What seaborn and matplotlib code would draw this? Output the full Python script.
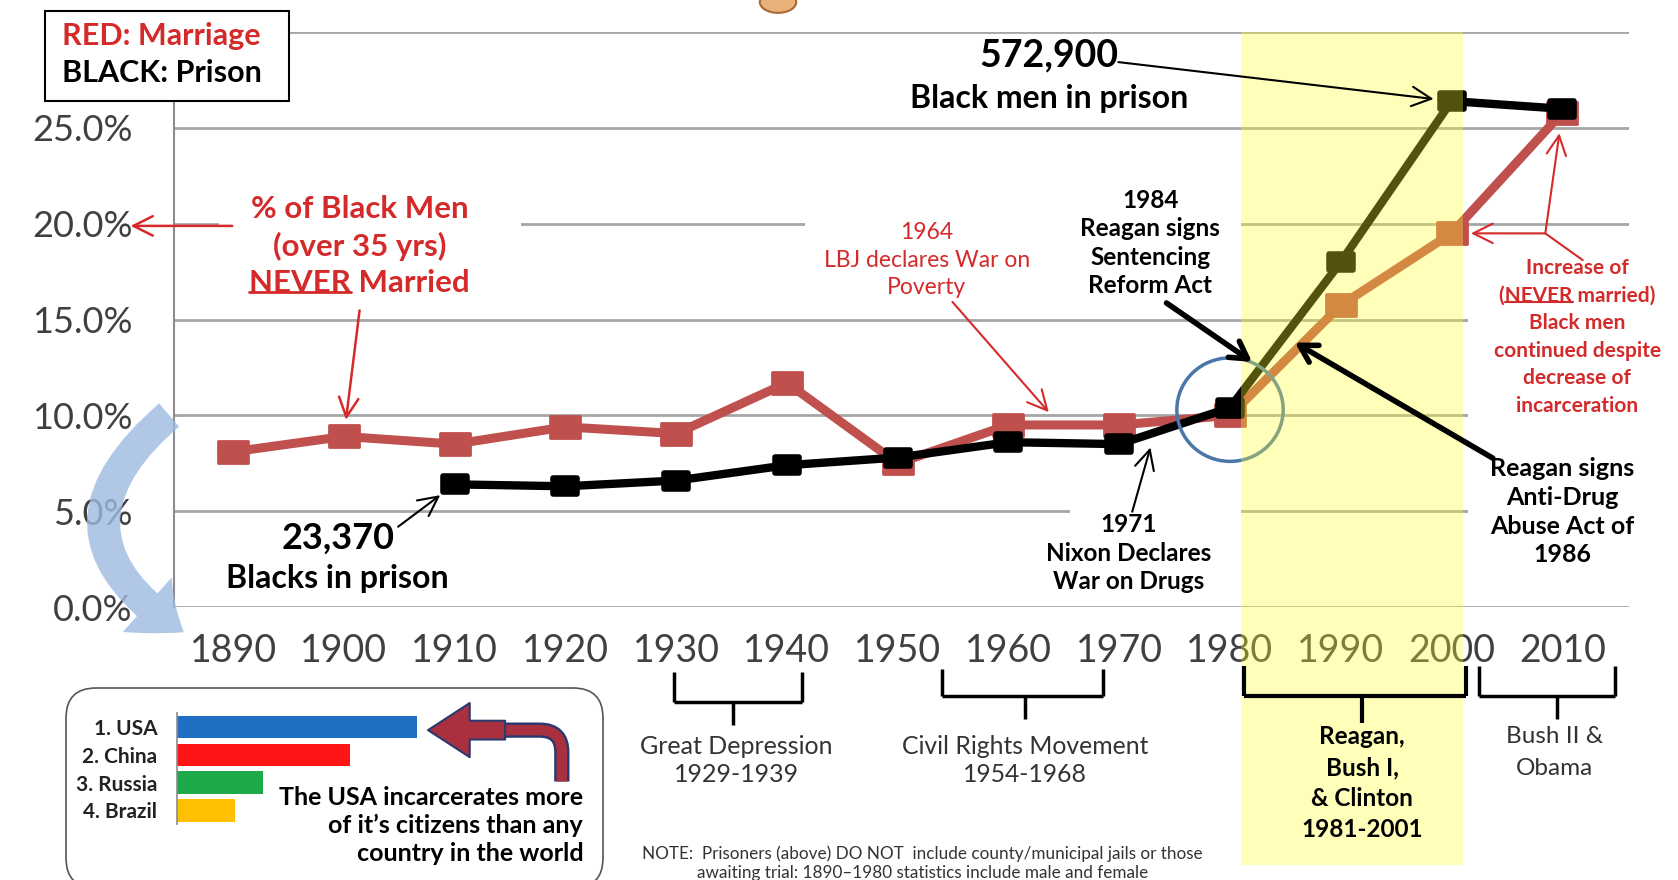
import numpy as np
import matplotlib
matplotlib.use("Agg")
import matplotlib.pyplot as plt
import seaborn as sns
from matplotlib.patches import Rectangle, FancyBboxPatch, Ellipse, FancyArrowPatch
from matplotlib.lines import Line2D
from matplotlib.path import Path
from matplotlib.markers import MarkerStyle
import matplotlib.transforms as mtransforms

# ---------------- data ----------------
years = [1890, 1900, 1910, 1920, 1930, 1940, 1950, 1960, 1970, 1980, 1990, 2000, 2010]
never_married_pct = [8.1, 8.9, 8.5, 9.4, 9.05, 11.7, 7.5, 9.5, 9.5, 10.0, 15.75, 19.5, 25.8]
prison_pct = [np.nan, np.nan, 6.4, 6.3, 6.6, 7.4, 7.8, 8.6, 8.5, 10.4, 18.0, 26.4, 26.0]
y_ticks = [0, 5, 10, 15, 20, 25, 30]
y_tick_labels = ["0.0%", "5.0%", "10.0%", "15.0%", "20.0%", "25.0%", ""]
x_tick_labels = [str(y) for y in years]
reagan_span = [1981, 2001]

countries = ["1. USA", "2. China", "3. Russia", "4. Brazil"]
prisoners_millions = [2.2, 1.58, 0.79, 0.53]
country_colors = ["#1f6fc5", "#ff1515", "#1faa4a", "#ffc000"]

# ---------------- style ----------------
sns.set_style("white")
plt.rcParams["font.family"] = ["Lato", "DejaVu Sans"]

RED_LINE = "#c0504d"
RED_TXT = "#d42a2a"
GRID = "#a6a6a6"

W_IN, H_IN = 16.78, 8.80
fig = plt.figure(figsize=(W_IN, H_IN), dpi=100)
fig.patch.set_facecolor("white")


def D(x, y):
    """reference layout position (1568x822 preview) -> figure fraction"""
    return (x / 1568.0, 1.0 - y / 822.0)


ax = fig.add_axes([163 / 1568, 1 - 567 / 822, (1522 - 163) / 1568, (567 - 30) / 822])
ax.set_zorder(0)

# markers
rect_marker = MarkerStyle(Path([(-1.38, -1), (1.38, -1), (1.38, 1), (-1.38, 1), (-1.38, -1)],
                               [Path.MOVETO, Path.LINETO, Path.LINETO, Path.LINETO, Path.CLOSEPOLY]),
                          joinstyle="miter")
rrect_marker = MarkerStyle(Path([(-1.45, -1), (1.45, -1), (1.45, 1), (-1.45, 1), (-1.45, -1)],
                                [Path.MOVETO, Path.LINETO, Path.LINETO, Path.LINETO, Path.CLOSEPOLY]),
                           joinstyle="round")

sns.lineplot(x=years, y=never_married_pct, ax=ax, color=RED_LINE, lw=6.5,
             marker=rect_marker, markersize=21, markeredgecolor=RED_LINE,
             markeredgewidth=2, zorder=2)
sns.lineplot(x=years, y=prison_pct, ax=ax, color="black", lw=6,
             marker=rrect_marker, markersize=17, markeredgecolor="black",
             markeredgewidth=4, zorder=2.2)

ax.set_xlim(1884.7, 2016)
ax.set_ylim(0, 30)
ax.set_xticks(years, labels=x_tick_labels)
ax.set_yticks(y_ticks, labels=y_tick_labels)
ax.set_xlabel("")
ax.set_ylabel("")
ax.yaxis.grid(True, color=GRID, lw=2)
ax.xaxis.grid(False)
ax.tick_params(axis="x", length=0, pad=19, labelsize=27, labelcolor="#404040")
ax.tick_params(axis="y", length=0, pad=30, labelsize=26, labelcolor="#404040")
for s in ["top", "right", "bottom"]:
    ax.spines[s].set_visible(False)
ax.spines["left"].set_color("#8c8c8c")
ax.spines["left"].set_linewidth(1.5)

# circle around 1980
ax.add_patch(Ellipse((1980, 10.3), width=9.6, height=5.4, fill=False,
                     edgecolor="#4a76a8", lw=2.5, zorder=2.5))

# yellow overlay (drawn over lines/ticks -> olive/orange look)
trans_xfig = mtransforms.blended_transform_factory(ax.transData, fig.transFigure)
ax.add_patch(Rectangle((reagan_span[0], 1 - 808 / 822), reagan_span[1] - reagan_span[0],
                       (808 - 30) / 822, transform=trans_xfig, facecolor="#ffff2d",
                       alpha=0.33, edgecolor="none", zorder=3, clip_on=False))

# white masks hiding grid behind text blocks
def white_mask(x0, y0, x1, y1):
    p0 = D(x0, y1)
    fig.add_artist(Rectangle(p0, (x1 - x0) / 1568, (y1 - y0) / 822, transform=fig.transFigure,
                             facecolor="white", edgecolor="none", zorder=1))

white_mask(205, 182, 487, 282)
white_mask(752, 200, 1160, 222)
white_mask(1000, 468, 1160, 488)
white_mask(1372, 245, 1545, 532)

# legend box
fig.add_artist(Rectangle(D(42, 94), 228 / 1568, 84 / 822, transform=fig.transFigure,
                         facecolor="white", edgecolor="black", lw=1.5, zorder=1.5))


def ftext(x, y, s, size=16, color="black", weight="bold", ha="center", **kw):
    return fig.text(*D(x, y), s, fontsize=size, color=color, fontweight=weight,
                    ha=ha, va="center", zorder=5, **kw)


ftext(58, 34, "RED: Marriage", 22, RED_TXT, ha="left")
ftext(58, 68, "BLACK: Prison", 22, "black", ha="left")

# cut-off ornament at top
fig.add_artist(Ellipse(D(727, 2), 34 / 1568, 20 / 822, transform=fig.transFigure,
                       facecolor="#e8b27a", edgecolor="#a86a30", lw=1.5, zorder=1))

# "% of Black Men" block
ftext(336, 195, "% of Black Men", 22.5, RED_TXT)
ftext(336, 230, "(over 35 yrs)", 22.5, RED_TXT)
t_never1 = ftext(336, 264, "NEVER Married", 22.5, RED_TXT)

# 1964
ftext(866, 217, "1964", 16.5, RED_TXT, weight="normal")
ftext(866, 243, "LBJ declares War on", 16.5, RED_TXT, weight="normal")
ftext(866, 269, "Poverty", 16.5, RED_TXT, weight="normal")

# 1984
for i, s in enumerate(["1984", "Reagan signs", "Sentencing", "Reform Act"]):
    ftext(1075, 187 + i * 26.7, s, 17.5)

# 572,900
ftext(980, 52, "572,900", 27)
ftext(980, 92, "Black men in prison", 23)

# Increase of ...
inc_lines = ["Increase of", "(NEVER married)", "Black men", "continued despite",
             "decrease of", "incarceration"]
inc_objs = []
for i, s in enumerate(inc_lines):
    inc_objs.append(ftext(1474, 250 + i * 25.8, s, 15, RED_TXT))

# Anti-drug
for i, s in enumerate(["Reagan signs", "Anti-Drug", "Abuse Act of", "1986"]):
    ftext(1460, 438 + i * 26.7, s, 18)

# Nixon
for i, s in enumerate(["1971", "Nixon Declares", "War on Drugs"]):
    ftext(1055, 490 + i * 26.7, s, 17.5)

# 23,370
ftext(316, 503, "23,370", 26)
ftext(315, 540, "Blacks in prison", 23)

# ---------------- arrows ----------------
def arrow_fig(p0, p1, color="black", lw=1.5, style="->,head_length=0.7,head_width=0.35"):
    fig.add_artist(FancyArrowPatch(D(*p0), D(*p1), transform=fig.transFigure,
                                   arrowstyle=style, color=color, lw=lw, zorder=6,
                                   shrinkA=0, shrinkB=0, mutation_scale=20))


def arrow_data(p0, xy, color="black", lw=1.5, shrinkB=12,
               style="->,head_length=0.7,head_width=0.35"):
    ax.annotate("", xy=xy, xycoords="data", xytext=D(*p0), textcoords="figure fraction",
                arrowprops=dict(arrowstyle=style, color=color, lw=lw, shrinkA=0,
                                shrinkB=shrinkB, mutation_scale=20),
                zorder=6, annotation_clip=False)


arrow_fig((217, 211), (122, 211), RED_TXT, 1.8)
arrow_data((336, 290), (years[1], never_married_pct[1]), RED_TXT, 1.8, shrinkB=12)
arrow_fig((890, 282), (980, 385), RED_TXT, 1.5)
arrow_fig((1090, 283), (1170, 338), "black", 4, "->,head_length=0.6,head_width=0.35")
arrow_data((1045, 58), (years[11], prison_pct[11]), "black", 1.5, shrinkB=13)
arrow_fig((1395, 428), (1210, 320), "black", 4, "->,head_length=0.6,head_width=0.35")
arrow_fig((1058, 478), (1075, 418), "black", 1.5)
arrow_data((372, 492), (years[2], prison_pct[2]), "black", 1.5, shrinkB=13)
# fork
arrow_fig((1479, 243), (1444, 218), RED_TXT, 1.5, "-")
arrow_data((1444, 218), (years[11], never_married_pct[11]), RED_TXT, 1.5, shrinkB=14)
arrow_data((1444, 218), (years[12], never_married_pct[12]), RED_TXT, 1.5, shrinkB=15)

# big blue curved arrow on the left
fig.add_artist(FancyArrowPatch(D(160, 386), D(174, 592), transform=fig.transFigure,
                               connectionstyle="arc3,rad=0.68",
                               arrowstyle="simple,head_width=2.4,head_length=1.5,tail_width=1.0",
                               mutation_scale=22, facecolor="#9dbbe0", edgecolor="none",
                               alpha=0.8, zorder=4))

# ---------------- brackets under the axis ----------------
def bracket(x0, x1, xm, ytop, yh, ybot, lw=2.5):
    for xs, ys in [([x0, x0], [ytop, yh]), ([x1, x1], [ytop, yh]), ([x0, x1], [yh, yh]),
                   ([xm, xm], [yh, ybot])]:
        fig.add_artist(Line2D(xs, [1 - v / 822 for v in ys], transform=trans_xfig,
                              color="black", lw=lw, zorder=4, solid_capstyle="butt"))


bracket(1929.8, 1941.4, 1935.1, 628, 656, 677)
bracket(1954.0, 1968.5, 1961.5, 625, 650, 672)
bracket(1981.3, 2001.3, 1991.9, 622, 650, 675, lw=3)
bracket(2002.5, 2014.8, 2009.5, 622, 650, 672)

ftext(688, 697, "Great Depression", 18, "#333333", weight="normal")
ftext(688, 723, "1929-1939", 18, "#333333", weight="normal")
ftext(958, 697, "Civil Rights Movement", 17.8, "#333333", weight="normal")
ftext(958, 723, "1954-1968", 17.8, "#333333", weight="normal")
for i, s in enumerate(["Reagan,", "Bush I,", "& Clinton", "1981-2001"]):
    ftext(1273, 688 + i * 29, s, 17.5)
ftext(1453, 688, "Bush II &", 17.5, "#333333", weight="normal")
ftext(1453, 718, "Obama", 17.5, "#333333", weight="normal")

ftext(862, 797, "NOTE:  Prisoners (above) DO NOT  include county/municipal jails or those",
      12.3, "#333333", weight="normal")
ftext(862, 815, "awaiting trial: 1890\u20131980 statistics include male and female",
      12.3, "#333333", weight="normal")

# ---------------- inset bar chart ----------------
fig.add_artist(FancyBboxPatch((0.66, -0.08), 5.37, 2.0, boxstyle="round,pad=0,rounding_size=0.3",
                              transform=fig.dpi_scale_trans, facecolor="white",
                              edgecolor="#555555", lw=1.2, zorder=1))
ax2 = fig.add_axes([165 / 1568, 1 - 770 / 822, (390 - 165) / 1568, (770 - 666) / 822])
ax2.set_zorder(2)
sns.barplot(x=prisoners_millions, y=countries, hue=countries, palette=country_colors,
            orient="h", ax=ax2, width=0.8, legend=False, dodge=False, edgecolor="none",
            saturation=1)
ax2.set_xlim(0, 2.2)
ax2.set_ylim(3.5, -0.5)
ax2.patch.set_alpha(0)
ax2.set_xlabel("")
ax2.set_ylabel("")
ax2.set_xticks([])
ax2.set_yticks(range(len(countries)), labels=countries)
for s in ["top", "right", "bottom"]:
    ax2.spines[s].set_visible(False)
ax2.spines["left"].set_color("#8c8c8c")
ax2.spines["left"].set_linewidth(1.2)
ax2.tick_params(axis="y", length=0, pad=14, labelsize=15, labelcolor="#222222")
for lab in ax2.get_yticklabels():
    lab.set_fontweight("bold")

ftext(545, 745, "The USA incarcerates more", 18, ha="right")
ftext(545, 771, "of it\u2019s citizens than any", 18, ha="right")
ftext(545, 797, "country in the world", 18, ha="right")

# 3D-ish bent arrow in the inset: tail (vertical + bend) then head
for lw, col in [(11, "#2b3a6e"), (7.5, "#a8303f")]:
    fig.add_artist(FancyArrowPatch(D(525, 730), D(470, 682), transform=fig.transFigure,
                                   connectionstyle="angle,angleA=90,angleB=0,rad=22",
                                   arrowstyle="-", color=col, lw=lw, zorder=4,
                                   shrinkA=0, shrinkB=0, capstyle="butt"))
fig.add_artist(FancyArrowPatch(D(472, 682), D(400, 682), transform=fig.transFigure,
                               arrowstyle="simple,head_width=2.6,head_length=2.0,tail_width=0.9",
                               mutation_scale=15, facecolor="#a8303f", edgecolor="#2b3a6e",
                               lw=1.5, zorder=4.1, shrinkA=0, shrinkB=0))

# ---------------- underlines ----------------
fig.canvas.draw()
rend = fig.canvas.get_renderer()
for lab in ax2.get_yticklabels():
    lab.set_fontweight("bold")


def text_w(s, tobj):
    t = fig.text(0, 0, s, fontsize=tobj.get_fontsize(), fontweight=tobj.get_fontweight(),
                 family=tobj.get_fontfamily())
    w = t.get_window_extent(rend).width
    t.remove()
    return w


def underline(tobj, prefix, word, color, lw=1.8):
    bb = tobj.get_window_extent(rend)
    full = text_w(tobj.get_text(), tobj)
    cx = 0.5 * (bb.x0 + bb.x1)
    start = cx - full / 2.0
    pre_w = text_w(prefix + "X", tobj) - text_w("X", tobj) if prefix else 0.0
    x0 = start + pre_w
    x1 = x0 + text_w(word, tobj)
    y = bb.y0 + 0.17 * bb.height
    W, H = fig.bbox.width, fig.bbox.height
    fig.add_artist(Line2D([x0 / W, x1 / W], [y / H, y / H], transform=fig.transFigure,
                          color=color, lw=lw, zorder=6))


underline(t_never1, "", "NEVER", RED_TXT, 2)
underline(inc_objs[1], "(", "NEVER", RED_TXT, 1.5)

fig.savefig("out.png", dpi=100, facecolor="white")
